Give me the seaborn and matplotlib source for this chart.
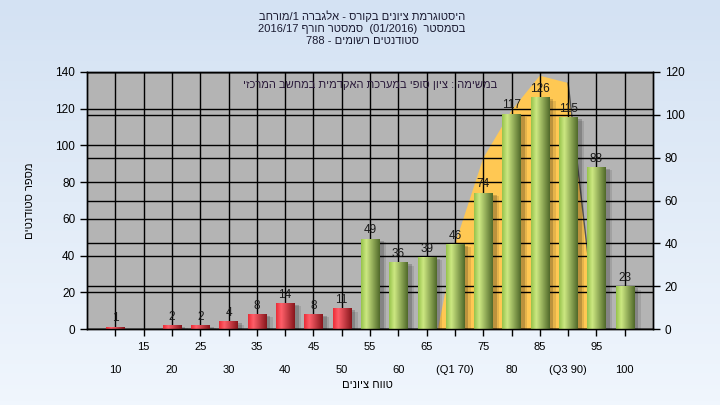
import re
import numpy as np
import seaborn as sns
import matplotlib
matplotlib.use("Agg")
import matplotlib.pyplot as plt

# ------------------ Data ------------------
grades = [10, 15, 20, 25, 30, 35, 40, 45, 50, 55, 60, 65, 70, 75, 80, 85, 90, 95, 100]
counts = [1, 0, 2, 2, 4, 8, 14, 8, 11, 49, 36, 39, 46, 74, 117, 126, 115, 88, 23]
upper_labels = ["15", "25", "35", "45", "55", "65", "75", "85", "95"]
lower_labels = ["10", "20", "30", "40", "50", "60", "(Q1 70)", "80", "(Q3 90)", "100"]
pass_grade = 55

# interquartile band (left axis units)
band_grades = [67, 70, 75, 80, 85, 90, 95]
band_values = [0, 46, 93, 119, 138, 134, 0]

title_lines = [
    "היסטוגרמת ציונים בקורס - אלגברה 1/מורחב",
    "בסמסטר  (01/2016)  סמסטר חורף 2016/17",
    "סטודנטים רשומים - 788",
]
note_text = "במשימה : ציון סופי במערכת האקדמית במחשב המרכזי"
y_title = "מספר סטודנטים"
x_title = "טווח ציונים"

left_ticks = [0, 20, 40, 60, 80, 100, 120, 140]
right_ticks = [0, 20, 40, 60, 80, 100, 120]


def visual(s):
    # crude bidi: keep latin/digit runs, reverse the hebrew ones
    mirror = str.maketrans("()", ")(")
    runs = re.findall(r"[0-9A-Za-z]+(?:[/.][0-9A-Za-z]+)*|[^0-9A-Za-z]+", s)
    out = []
    for r in reversed(runs):
        if re.match(r"[0-9A-Za-z]", r):
            out.append(r)
        else:
            out.append(r[::-1].translate(mirror))
    return "".join(out)


def gradient(c_left, c_hi, c_right):
    t = np.linspace(0, 1, 64)
    cols = np.array([c_left, c_hi, c_right]) / 255.0
    g = np.stack([np.interp(t, [0, 0.28, 1], cols[:, k]) for k in range(3)], axis=-1)
    return g[np.newaxis, :, :]


def main():
    plt.rcParams["font.family"] = ["Liberation Sans", "DejaVu Sans"]
    plt.rcParams["font.size"] = 8

    fig = plt.figure(figsize=(7.2, 4.05), dpi=100)

    # background gradient
    bg = fig.add_axes([0, 0, 1, 1], zorder=-10)
    shade = np.linspace(0, 1, 100)[:, None, None]
    top = np.array([212, 226, 243]) / 255
    bot = np.array([240, 246, 253]) / 255
    bg.imshow(top + (bot - top) * shade, aspect="auto", extent=[0, 1, 0, 1])
    bg.axis("off")

    rect = [87 / 720, 1 - 329 / 405, 566 / 720, 257 / 405]
    ax2 = fig.add_axes(rect)
    ax = fig.add_axes(rect)
    ax.set_zorder(ax2.get_zorder() + 1)
    ax.patch.set_visible(False)
    ax2.set_facecolor("#b4b4b4")

    step = grades[1] - grades[0]
    xlim = (grades[0] - step, grades[-1] + step)

    # ------------------ bars ------------------
    sns.barplot(x=grades, y=counts, native_scale=True, color="#88aa44",
                width=0.64, ax=ax, zorder=2)

    red = gradient((235, 45, 55), (255, 95, 105), (135, 22, 28))
    green = gradient((150, 195, 75), (205, 232, 130), (80, 105, 42))
    for p in list(ax.patches):
        c = p.get_height()
        x0, w = p.get_x(), p.get_width()
        p.set_visible(False)
        if c == 0:
            continue
        xc = x0 + w / 2
        # soft shadow on the right
        ax.bar(xc + 0.16 * step, c - 0.8, width=w, color="black", alpha=0.18,
               zorder=1.6, linewidth=0)
        ax.bar(xc + 0.24 * step, c - 1.6, width=w, color="black", alpha=0.1,
               zorder=1.6, linewidth=0)
        ax.imshow(red if xc < pass_grade else green, aspect="auto",
                  extent=[x0, x0 + w, 0, c], zorder=2)

    for g, c in zip(grades, counts):
        if c == 0:
            continue
        ax.annotate(str(c), (g, c), xytext=(0, 2), textcoords="offset points",
                    ha="center", va="bottom", fontsize=8.5, color="#1a1a1a",
                    zorder=4)

    # ------------------ interquartile band ------------------
    ax2.fill(band_grades, band_values, color="#ffc853", zorder=0.3,
             transform=ax.transData, linewidth=0)
    ax2.plot(band_grades[-2:], band_values[-2:], color="#555555", lw=1,
             transform=ax.transData, zorder=0.4)

    # ------------------ axes ------------------
    ax.set_ylim(0, 140)
    ax2.set_ylim(0, 120)
    ax.set_xlim(*xlim)
    ax2.set_xlim(*xlim)
    ax.set_yticks(left_ticks)
    ax2.set_yticks(right_ticks)
    ax2.yaxis.tick_right()
    ax.grid(axis="y", color="black", lw=1, zorder=1)
    ax2.grid(axis="y", color="black", lw=1)
    ax2.set_xticks(grades)
    ax2.grid(axis="x", color="black", lw=1)
    ax.grid(axis="x", visible=False)
    ax2.tick_params(axis="x", bottom=False, labelbottom=False)

    ax.set_xticks(grades[1::2], upper_labels)
    ax.set_xticks(grades[0::2], lower_labels, minor=True)
    ax.tick_params(axis="x", which="major", length=5, width=1, pad=4, labelsize=8)
    ax.tick_params(axis="x", which="minor", length=5, width=1, pad=21, labelsize=8)
    ax.tick_params(axis="y", length=5, width=1, labelsize=8.5, right=False)
    ax2.tick_params(axis="y", length=5, width=1, labelsize=8.5, left=False,
                    labelleft=False)

    for a in (ax, ax2):
        for s in a.spines.values():
            s.set_color("black")
            s.set_linewidth(1)

    ax.set_ylabel(visual(y_title), fontsize=8)
    ax.yaxis.set_label_coords(-0.092, 0.5)
    ax.set_xlabel(visual(x_title), fontsize=8)
    ax.xaxis.set_label_coords(0.495, -0.2)

    ax.text(0.5, 0.95, visual(note_text), transform=ax.transAxes, ha="center",
            va="center", fontsize=8, color="#2a1a3a", zorder=5)

    fig.text(0.503, 1 - 10 / 405, "\n".join(visual(t) for t in title_lines),
             ha="center", va="top", fontsize=8, linespacing=1.25, color="#1a1a30")

    fig.savefig("out.png", dpi=100, facecolor=fig.get_facecolor())


if __name__ == "__main__":
    main()
